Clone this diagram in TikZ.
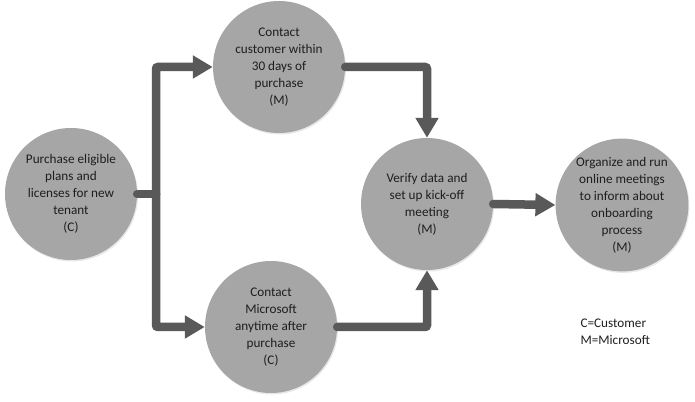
\documentclass[tikz,border=0pt]{standalone}
\usepackage{fontspec}
\setmainfont{Carlito}
\usetikzlibrary{arrows.meta,shadows}

\definecolor{stepgray}{HTML}{A6A6A6}
\definecolor{flowgray}{HTML}{595959}
\definecolor{inkgray}{HTML}{1E1E1E}

\tikzset{
  stepnode/.style={circle, fill=stepgray, minimum size=132pt, inner sep=0pt,
    align=center, text=inkgray, font=\fontsize{13.2}{17}\selectfont,
    drop shadow={opacity=0.18, shadow xshift=1pt, shadow yshift=-1.5pt}},
  flow/.style={draw=flowgray, line width=8.5pt, line cap=round, rounded corners=2pt},
  flowtip/.style={-{Triangle[width=22pt,length=20pt]}}
}

\begin{document}
\begin{tikzpicture}[x=1pt, y=1pt]
  \useasboundingbox (0,0) rectangle (695,401);
  % steps
  \node[stepnode] (purchase) at (71,207) {Purchase eligible\\plans and\\licenses for new\\tenant\\(C)};
  \node[stepnode] (contactc) at (279,334) {Contact\\customer within\\30 days of\\purchase\\(M)};
  \node[stepnode] (contactm) at (271,74) {Contact\\Microsoft\\anytime after\\purchase\\(C)};
  \node[stepnode] (verify) at (427,197) {Verify data and\\set up kick-off\\meeting\\(M)};
  \node[stepnode] (organize) at (622,196) {Organize and run\\online meetings\\to inform about\\onboarding\\process\\(M)};
  \node[align=left, anchor=west, text=inkgray, font=\fontsize{13.2}{17}\selectfont] (legend) at (577,69) {C=Customer\\M=Microsoft};
  % connectors
  \coordinate (split) at (156,207);
  \draw[flow] (purchase.east) -- (split);
  \draw[flow, flowtip] (split) |- (contactc.west);
  \draw[flow, flowtip] (split) |- (contactm.west);
  \draw[flow, flowtip] (contactc.east) -| (verify.north);
  \draw[flow, flowtip] (contactm.east) -| (verify.south);
  \draw[flow, flowtip] (verify.east) -- (organize.west);
\end{tikzpicture}
\end{document}
